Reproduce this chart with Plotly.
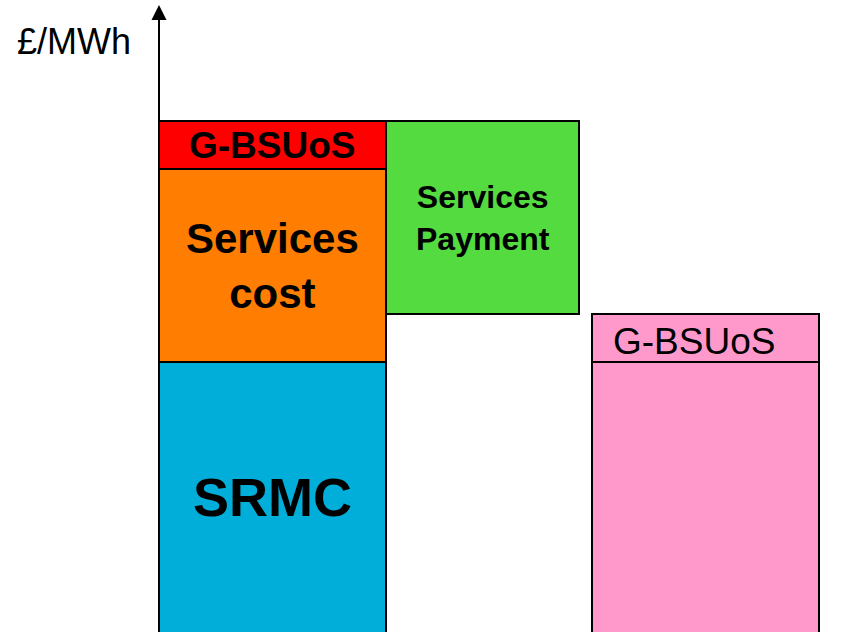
import plotly.graph_objects as go

# ---- data (arbitrary £/MWh units) ----
srmc = 30.0
services_cost = 19.3
g_bsuos = 4.8

seg_names = ["SRMC", "Services<br>cost", "G-BSUoS", "Services<br>Payment", "", "G-BSUoS"]

# ---- layout constants ----
W, H = 863, 632
x_axis_pos = 159
bar1_x0, bar1_x1 = 159, 386
bar2_x0, bar2_x1 = 386, 579
bar3_x0, bar3_x1 = 592, 819
y_min, y_max = 3.0, 66.2

c_blue = "rgb(0,174,217)"
c_orange = "rgb(255,125,0)"
c_red = "rgb(255,0,0)"
c_green = "rgb(84,219,64)"
c_pink = "rgb(255,153,204)"

FONT = "Liberation Sans, Arial, Helvetica, sans-serif"

def cx(a, b):
    return (a + b) / 2

def wd(a, b):
    return b - a

fig = go.Figure()

line = dict(color="black", width=2)

# segments: (x0, x1, base, height, colour)
segments = [
    (bar1_x0, bar1_x1, 0.0, srmc, c_blue),
    (bar1_x0, bar1_x1, srmc, services_cost, c_orange),
    (bar1_x0, bar1_x1, srmc + services_cost, g_bsuos, c_red),
    (bar2_x0, bar2_x1, srmc + g_bsuos, services_cost, c_green),
    (bar3_x0, bar3_x1, 0.0, srmc, c_pink),
    (bar3_x0, bar3_x1, srmc, g_bsuos, c_pink),
]

for (x0, x1, base, h, col) in segments:
    fig.add_trace(go.Bar(
        x=[cx(x0, x1)], y=[h], base=[base], width=[wd(x0, x1)],
        marker=dict(color=col, line=line), showlegend=False,
        hoverinfo="skip",
    ))

# labels: (segment index, bold, size, xshift, yshift)
label_specs = [
    (0, True, 54, 0, 0),
    (1, True, 42, 0, 0),
    (2, True, 37, 0, 0),
    (3, True, 32, 0, 0),
    (5, False, 37, -12, -3),
]
for idx, bold, size, xs, ys in label_specs:
    x0, x1, base, h, col = segments[idx]
    lo = max(base, y_min)
    hi = base + h
    txt = seg_names[idx]
    if bold:
        txt = "<b>" + txt + "</b>"
    fig.add_annotation(
        x=cx(x0, x1), y=(lo + hi) / 2, text=txt, showarrow=False,
        xanchor="center", yanchor="middle", xshift=xs, yshift=ys,
        font=dict(family=FONT, size=size, color="black"),
    )

# y-axis arrow
fig.add_annotation(
    x=x_axis_pos, y=y_max - 0.5, ax=x_axis_pos, ay=y_min - 2,
    xref="x", yref="y", axref="x", ayref="y",
    showarrow=True, arrowhead=2, arrowsize=1.5, arrowwidth=2,
    arrowcolor="black", text="",
)

fig.add_annotation(
    x=15 / W, y=1 - 41 / H, xref="paper", yref="paper",
    text="£/MWh", showarrow=False, xanchor="left", yanchor="middle",
    font=dict(family=FONT, size=36, color="black"),
)

fig.update_layout(
    width=W, height=H,
    margin=dict(l=0, r=0, t=0, b=0),
    paper_bgcolor="white", plot_bgcolor="white",
    barmode="overlay",
    xaxis=dict(range=[0, W], visible=False, fixedrange=True),
    yaxis=dict(range=[y_min, y_max], visible=False, fixedrange=True),
)

fig.write_html(
    "out.html",
    config={"displayModeBar": False},
    post_script="document.body.style.margin='0';document.body.style.overflow='hidden';",
)
